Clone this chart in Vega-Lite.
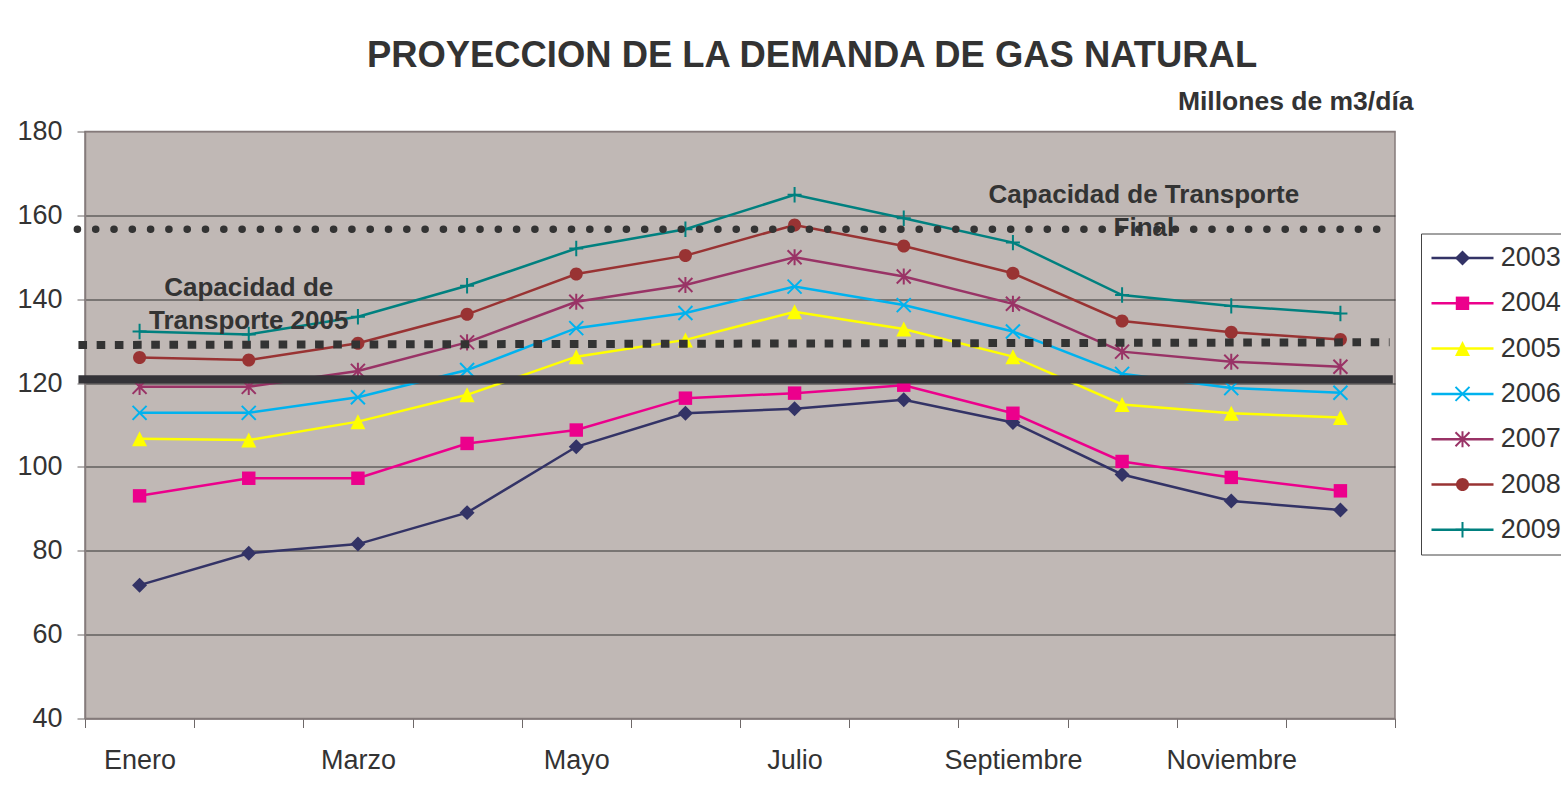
{
  "$schema": "https://vega.github.io/schema/vega-lite/v6.json",
  "autosize": {"type": "none"},
  "padding": {"left": 85, "top": 131.5, "right": 166, "bottom": 78.5},
  "width": 1310,
  "height": 587,
  "background": "white",
  "config": {
    "font": "Liberation Sans",
    "view": {"fill": "#C0B8B5", "stroke": "#857B7B", "strokeWidth": 1.5}
  },
  "title": {
    "text": "PROYECCION DE LA DEMANDA DE GAS NATURAL",
    "font": "Liberation Sans",
    "fontSize": 36.4,
    "fontWeight": "bold",
    "color": "#333333",
    "anchor": "middle",
    "frame": "group",
    "dx": 72,
    "offset": 14
  },
  "datasets": {
    "demanda": [
      {"mes": 1, "serie": "2003", "anio": 2003, "valor": 71.8}, {"mes": 2, "serie": "2003", "anio": 2003, "valor": 79.4}, {"mes": 3, "serie": "2003", "anio": 2003, "valor": 81.6}, {"mes": 4, "serie": "2003", "anio": 2003, "valor": 89.1}, {"mes": 5, "serie": "2003", "anio": 2003, "valor": 104.8}, {"mes": 6, "serie": "2003", "anio": 2003, "valor": 112.8}, {"mes": 7, "serie": "2003", "anio": 2003, "valor": 113.9}, {"mes": 8, "serie": "2003", "anio": 2003, "valor": 116.0}, {"mes": 9, "serie": "2003", "anio": 2003, "valor": 110.6}, {"mes": 10, "serie": "2003", "anio": 2003, "valor": 98.2}, {"mes": 11, "serie": "2003", "anio": 2003, "valor": 91.9}, {"mes": 12, "serie": "2003", "anio": 2003, "valor": 89.7},
      {"mes": 1, "serie": "2004", "anio": 2004, "valor": 93.1}, {"mes": 2, "serie": "2004", "anio": 2004, "valor": 97.3}, {"mes": 3, "serie": "2004", "anio": 2004, "valor": 97.3}, {"mes": 4, "serie": "2004", "anio": 2004, "valor": 105.6}, {"mes": 5, "serie": "2004", "anio": 2004, "valor": 108.8}, {"mes": 6, "serie": "2004", "anio": 2004, "valor": 116.4}, {"mes": 7, "serie": "2004", "anio": 2004, "valor": 117.6}, {"mes": 8, "serie": "2004", "anio": 2004, "valor": 119.5}, {"mes": 9, "serie": "2004", "anio": 2004, "valor": 112.8}, {"mes": 10, "serie": "2004", "anio": 2004, "valor": 101.3}, {"mes": 11, "serie": "2004", "anio": 2004, "valor": 97.5}, {"mes": 12, "serie": "2004", "anio": 2004, "valor": 94.3},
      {"mes": 1, "serie": "2005", "anio": 2005, "valor": 106.7}, {"mes": 2, "serie": "2005", "anio": 2005, "valor": 106.4}, {"mes": 3, "serie": "2005", "anio": 2005, "valor": 110.8}, {"mes": 4, "serie": "2005", "anio": 2005, "valor": 117.2}, {"mes": 5, "serie": "2005", "anio": 2005, "valor": 126.3}, {"mes": 6, "serie": "2005", "anio": 2005, "valor": 130.3}, {"mes": 7, "serie": "2005", "anio": 2005, "valor": 137.0}, {"mes": 8, "serie": "2005", "anio": 2005, "valor": 132.9}, {"mes": 9, "serie": "2005", "anio": 2005, "valor": 126.3}, {"mes": 10, "serie": "2005", "anio": 2005, "valor": 114.9}, {"mes": 11, "serie": "2005", "anio": 2005, "valor": 112.8}, {"mes": 12, "serie": "2005", "anio": 2005, "valor": 111.8},
      {"mes": 1, "serie": "2006", "anio": 2006, "valor": 112.9}, {"mes": 2, "serie": "2006", "anio": 2006, "valor": 112.9}, {"mes": 3, "serie": "2006", "anio": 2006, "valor": 116.6}, {"mes": 4, "serie": "2006", "anio": 2006, "valor": 123.1}, {"mes": 5, "serie": "2006", "anio": 2006, "valor": 133.1}, {"mes": 6, "serie": "2006", "anio": 2006, "valor": 136.7}, {"mes": 7, "serie": "2006", "anio": 2006, "valor": 143.0}, {"mes": 8, "serie": "2006", "anio": 2006, "valor": 138.6}, {"mes": 9, "serie": "2006", "anio": 2006, "valor": 132.3}, {"mes": 10, "serie": "2006", "anio": 2006, "valor": 122.2}, {"mes": 11, "serie": "2006", "anio": 2006, "valor": 118.8}, {"mes": 12, "serie": "2006", "anio": 2006, "valor": 117.7},
      {"mes": 1, "serie": "2007", "anio": 2007, "valor": 119.1}, {"mes": 2, "serie": "2007", "anio": 2007, "valor": 119.1}, {"mes": 3, "serie": "2007", "anio": 2007, "valor": 122.9}, {"mes": 4, "serie": "2007", "anio": 2007, "valor": 129.7}, {"mes": 5, "serie": "2007", "anio": 2007, "valor": 139.4}, {"mes": 6, "serie": "2007", "anio": 2007, "valor": 143.4}, {"mes": 7, "serie": "2007", "anio": 2007, "valor": 150.0}, {"mes": 8, "serie": "2007", "anio": 2007, "valor": 145.4}, {"mes": 9, "serie": "2007", "anio": 2007, "valor": 138.9}, {"mes": 10, "serie": "2007", "anio": 2007, "valor": 127.5}, {"mes": 11, "serie": "2007", "anio": 2007, "valor": 125.1}, {"mes": 12, "serie": "2007", "anio": 2007, "valor": 123.9},
      {"mes": 1, "serie": "2008", "anio": 2008, "valor": 126.1}, {"mes": 2, "serie": "2008", "anio": 2008, "valor": 125.5}, {"mes": 3, "serie": "2008", "anio": 2008, "valor": 129.5}, {"mes": 4, "serie": "2008", "anio": 2008, "valor": 136.4}, {"mes": 5, "serie": "2008", "anio": 2008, "valor": 146.0}, {"mes": 6, "serie": "2008", "anio": 2008, "valor": 150.4}, {"mes": 7, "serie": "2008", "anio": 2008, "valor": 157.7}, {"mes": 8, "serie": "2008", "anio": 2008, "valor": 152.7}, {"mes": 9, "serie": "2008", "anio": 2008, "valor": 146.2}, {"mes": 10, "serie": "2008", "anio": 2008, "valor": 134.8}, {"mes": 11, "serie": "2008", "anio": 2008, "valor": 132.1}, {"mes": 12, "serie": "2008", "anio": 2008, "valor": 130.4},
      {"mes": 1, "serie": "2009", "anio": 2009, "valor": 132.3}, {"mes": 2, "serie": "2009", "anio": 2009, "valor": 131.6}, {"mes": 3, "serie": "2009", "anio": 2009, "valor": 135.8}, {"mes": 4, "serie": "2009", "anio": 2009, "valor": 143.2}, {"mes": 5, "serie": "2009", "anio": 2009, "valor": 152.1}, {"mes": 6, "serie": "2009", "anio": 2009, "valor": 156.7}, {"mes": 7, "serie": "2009", "anio": 2009, "valor": 164.9}, {"mes": 8, "serie": "2009", "anio": 2009, "valor": 159.3}, {"mes": 9, "serie": "2009", "anio": 2009, "valor": 153.5}, {"mes": 10, "serie": "2009", "anio": 2009, "valor": 141.0}, {"mes": 11, "serie": "2009", "anio": 2009, "valor": 138.4}, {"mes": 12, "serie": "2009", "anio": 2009, "valor": 136.6}
    ],
    "notas": [
      {"texto": "Capacidad de Transporte\nFinal", "mes": 10.2, "valor": 162.9},
      {"texto": "Capacidad de\nTransporte 2005", "mes": 2.0, "valor": 140.7}
    ],
    "capacidad_final": [{"desde": 0.43, "hasta": 12.45, "valor": 156.68}],
    "capacidad_2005": [{"desde": 0.44, "hasta": 12.45, "valor": 129.08, "valor_fin": 129.73}],
    "capacidad_actual": [{"desde": 0.44, "hasta": 12.48, "valor": 120.9}]
  },
  "layer": [
    {
      "data": {"name": "demanda"},
      "mark": {"type": "line", "strokeWidth": 2.5},
      "encoding": {
        "x": {
          "field": "mes", "type": "quantitative",
          "scale": {"domain": [0.5, 12.5], "nice": false, "zero": false},
          "axis": {
            "title": null,
            "values": [0.5, 1.5, 2.5, 3.5, 4.5, 5.5, 6.5, 7.5, 8.5, 9.5, 10.5, 11.5, 12.5],
            "labelExpr": "datum.value == 0.5 ? 'Enero' : datum.value == 2.5 ? 'Marzo' : datum.value == 4.5 ? 'Mayo' : datum.value == 6.5 ? 'Julio' : datum.value == 8.5 ? 'Septiembre' : datum.value == 10.5 ? 'Noviembre' : ''",
            "labelOffset": 54.58,
            "labelFlush": false,
            "labelOverlap": false,
            "labelFontSize": 27,
            "labelColor": "#333333",
            "labelPadding": 20,
            "tickSize": 9,
            "tickColor": "#6E6868",
            "domainColor": "#857B7B",
            "domainWidth": 1.5,
            "grid": false
          }
        },
        "y": {
          "field": "valor", "type": "quantitative",
          "scale": {"domain": [40, 180], "nice": false, "zero": false},
          "axis": {
            "title": "Millones de m3/día",
            "titleAngle": 0,
            "titleAlign": "right",
            "titleBaseline": "alphabetic",
            "titleX": 1328,
            "titleY": -22,
            "titleFontSize": 26.5,
            "titleFontWeight": "bold",
            "titleColor": "#333333",
            "values": [40, 60, 80, 100, 120, 140, 160, 180],
            "labelFontSize": 27,
            "labelColor": "#333333",
            "labelPadding": 15,
            "tickSize": 8,
            "tickColor": "#6E6868",
            "domainColor": "#857B7B",
            "domainWidth": 1.5,
            "grid": true,
            "gridColor": {"condition": {"test": "datum.value == 180 || datum.value == 40", "value": "#857B7B"}, "value": "#333333"},
            "gridWidth": 1.2
          }
        },
        "stroke": {
          "field": "serie", "type": "nominal",
          "scale": {
            "domain": ["2003", "2004", "2005", "2006", "2007", "2008", "2009"],
            "range": ["#333366", "#EC008C", "#FFFF00", "#00B2EE", "#993366", "#993333", "#00807F"]
          },
          "legend": {
            "title": null,
            "orient": "none",
            "legendX": 1336,
            "legendY": 102,
            "padding": 11,
            "strokeColor": "#444444",
            "labelFontSize": 27,
            "labelColor": "#333333",
            "labelOffset": 24.7,
            "symbolType": "M-4.43,0H4.43",
            "symbolSize": 196,
            "symbolStrokeWidth": 2.5,
            "symbolOffset": 17,
            "rowPadding": 17.3
          }
        }
      }
    },
    {
      "data": {"name": "demanda"},
      "mark": {"type": "point", "filled": true, "opacity": 1, "size": 196, "strokeWidth": 0},
      "encoding": {
        "x": {"field": "mes", "type": "quantitative"},
        "y": {"field": "valor", "type": "quantitative"},
        "color": {
          "field": "anio", "type": "nominal",
          "scale": {
            "domain": [2003, 2004, 2005, 2006, 2007, 2008, 2009],
            "range": ["#333366", "#EC008C", "#FFFF00", "#00B2EE", "#993366", "#993333", "#00807F"]
          },
          "legend": {
            "title": null,
            "orient": "none",
            "legendX": 1336,
            "legendY": 102,
            "padding": 11,
            "labelFontSize": 27,
            "labelOpacity": 0,
            "labelOffset": 24.7,
            "symbolSize": 196,
            "symbolStrokeWidth": 0,
            "symbolOpacity": 1,
            "symbolOffset": 17,
            "rowPadding": 17.3
          }
        },
        "shape": {
          "field": "anio", "type": "nominal",
          "scale": {
            "domain": [2003, 2004, 2005, 2006, 2007, 2008, 2009],
            "range": [
              "M0,-1.07L1.07,0L0,1.07L-1.07,0Z",
              "M-0.96,-0.96H0.96V0.96H-0.96Z",
              "M0,-1.07L1.07,1.07H-1.07Z",
              "M0.899,-1.101L1.101,-0.899L0.202,0L1.101,0.899L0.899,1.101L0,0.202L-0.899,1.101L-1.101,0.899L-0.202,0L-1.101,-0.899L-0.899,-1.101L0,-0.202Z",
              "M0.899,-1.101L1.101,-0.899L0.202,0L1.101,0.899L0.899,1.101L0,0.202L-0.899,1.101L-1.101,0.899L-0.202,0L-1.101,-0.899L-0.899,-1.101L0,-0.202ZM-0.143,-1.15H0.143V1.15H-0.143Z",
              "M-0.93,0A0.93,0.93,0,1,1,0.93,0A0.93,0.93,0,1,1,-0.93,0Z",
              "M-0.143,-1.1H0.143V-0.143H1V0.143H0.143V1.1H-0.143V0.143H-1V-0.143H-0.143Z"
            ]
          },
          "legend": {
            "title": null,
            "orient": "none",
            "legendX": 1336,
            "legendY": 102,
            "padding": 11,
            "labelFontSize": 27,
            "labelOpacity": 0,
            "labelOffset": 24.7,
            "symbolSize": 196,
            "symbolStrokeWidth": 0,
            "symbolOpacity": 1,
            "symbolOffset": 17,
            "rowPadding": 17.3
          }
        }
      }
    },
    {
      "data": {"name": "notas"},
      "mark": {"type": "text", "fontSize": 26, "fontWeight": "bold", "color": "#333333", "align": "center", "baseline": "alphabetic", "lineBreak": "\n", "lineHeight": 33},
      "encoding": {
        "x": {"field": "mes", "type": "quantitative"},
        "y": {"field": "valor", "type": "quantitative"},
        "text": {"field": "texto", "type": "nominal"}
      }
    },
    {
      "data": {"name": "capacidad_final"},
      "mark": {"type": "rule", "strokeWidth": 7.5, "strokeDash": [0.1, 18.2], "strokeCap": "round", "color": "#333333"},
      "encoding": {
        "x": {"field": "desde", "type": "quantitative"},
        "x2": {"field": "hasta"},
        "y": {"field": "valor", "type": "quantitative"}
      }
    },
    {
      "data": {"name": "capacidad_2005"},
      "mark": {"type": "rule", "strokeWidth": 8, "strokeDash": [8.6, 9.6], "strokeCap": "butt", "color": "#333333"},
      "encoding": {
        "x": {"field": "desde", "type": "quantitative"},
        "x2": {"field": "hasta"},
        "y": {"field": "valor", "type": "quantitative"},
        "y2": {"field": "valor_fin"}
      }
    },
    {
      "data": {"name": "capacidad_actual"},
      "mark": {"type": "rule", "strokeWidth": 8.3, "strokeCap": "butt", "color": "#343338"},
      "encoding": {
        "x": {"field": "desde", "type": "quantitative"},
        "x2": {"field": "hasta"},
        "y": {"field": "valor", "type": "quantitative"}
      }
    }
  ]
}
